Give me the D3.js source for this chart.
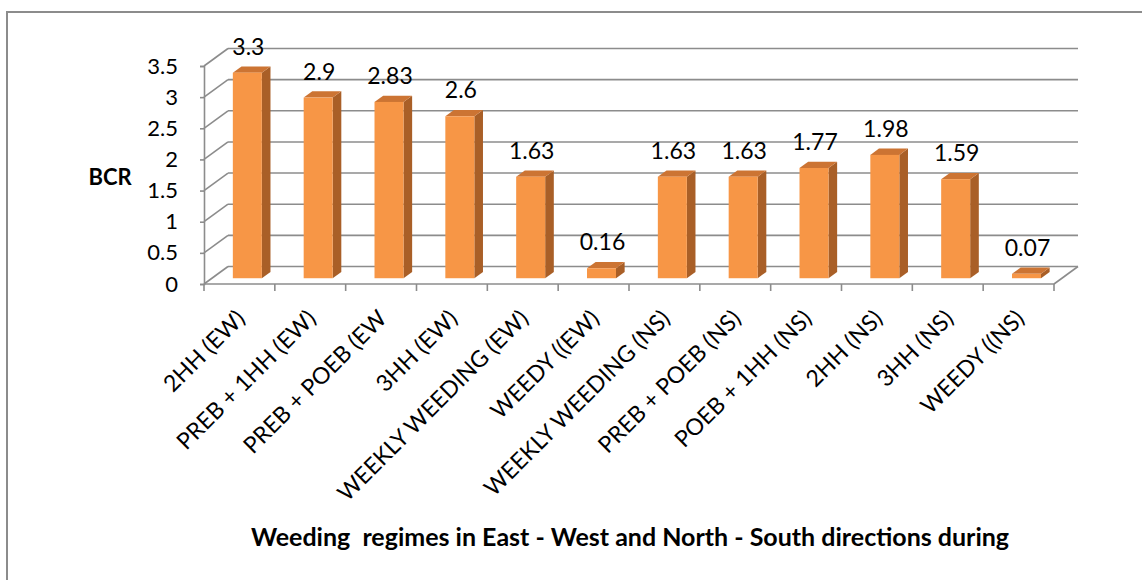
<!DOCTYPE html>
<html>
<head>
<meta charset="utf-8">
<script src="https://cdn.jsdelivr.net/npm/d3@7"></script>
<style>
  body { margin: 0; background: #fff; }
  text { font-family: Lato, "Open Sans", sans-serif; fill: #000; }
</style>
</head>
<body>
<svg width="1142" height="580"></svg>
<script>
const categories = [
    "2HH (EW)", "PREB + 1HH (EW)", "PREB + POEB (EW", "3HH (EW)",
    "WEEKLY WEEDING (EW)", "WEEDY ((EW)", "WEEKLY WEEDING (NS)", "PREB + POEB (NS)",
    "POEB + 1HH (NS)", "2HH (NS)", "3HH (NS)", "WEEDY ((NS)"
];
const bcr = [3.3, 2.9, 2.83, 2.6, 1.63, 0.16, 1.63, 1.63, 1.77, 1.98, 1.59, 0.07];
const yTicks = [0, 0.5, 1, 1.5, 2, 2.5, 3, 3.5];

const svg = d3.select("svg");
const plotLeft = 204, plotRight = 1054, plotBottom = 284, plotTop = 66;
// depth of the 3d box
const depthX = 24, depthY = -17.5;
const gridColor = "#8c8c8c";

const x = d3.scaleBand().domain(categories).range([plotLeft, plotRight]);
const y = d3.scaleLinear().domain([0, 3.5]).range([plotBottom, plotTop]);

// outer frame (only top and left edges show)
svg.append("path")
    .attr("d", "M7,580 V12 H1142")
    .attr("fill", "none")
    .attr("stroke", "#8c8c8c")
    .attr("stroke-width", 2);

const walls = svg.append("g")
    .attr("fill", "none")
    .attr("stroke", gridColor)
    .attr("stroke-width", 1.6);

// back wall gridlines
walls.selectAll(".grid").data(yTicks).join("line")
    .attr("x1", plotLeft + depthX).attr("x2", plotRight + depthX)
    .attr("y1", (d) => y(d) + depthY).attr("y2", (d) => y(d) + depthY);

// side wall lines
walls.selectAll(".side").data(yTicks).join("line")
    .attr("x1", plotLeft).attr("x2", plotLeft + depthX)
    .attr("y1", (d) => y(d)).attr("y2", (d) => y(d) + depthY);

// floor right edge
walls.append("line")
    .attr("x1", plotRight).attr("x2", plotRight + depthX)
    .attr("y1", plotBottom).attr("y2", plotBottom + depthY);

// y axis
const yAxis = svg.append("g")
    .attr("transform", `translate(${plotLeft},0)`)
    .call(d3.axisLeft(y).tickValues(yTicks).tickSize(4).tickPadding(22).tickFormat(d3.format("")));
yAxis.select(".domain").attr("stroke", gridColor).attr("stroke-width", 1.6);
yAxis.selectAll(".tick line").attr("stroke", gridColor).attr("stroke-width", 1.6);
yAxis.selectAll(".tick text").attr("font-size", 22).attr("font-family", "Lato");

// x axis: ticks at band boundaries, labels rotated
svg.append("line")
    .attr("x1", plotLeft).attr("x2", plotRight)
    .attr("y1", plotBottom).attr("y2", plotBottom)
    .attr("stroke", gridColor).attr("stroke-width", 1.6);
const bounds = categories.map((c) => x(c)).concat([plotRight]);
svg.append("g").selectAll("line").data(bounds).join("line")
    .attr("x1", (d) => d).attr("x2", (d) => d)
    .attr("y1", plotBottom).attr("y2", plotBottom + 7)
    .attr("stroke", gridColor).attr("stroke-width", 1.6);

svg.append("g").selectAll("text").data(categories).join("text")
    .attr("transform", (d) => `translate(${x(d) + x.bandwidth() / 2 + 7},${plotBottom + 36}) rotate(-45)`)
    .attr("text-anchor", "end")
    .attr("font-size", 23)
    .text((d) => d);

// bars
const barW = 29, barDepth = 0.36, barFront = 0.33;
const bdx = depthX * barDepth, bdy = depthY * barDepth;
const bars = svg.append("g").selectAll("g").data(categories).join("g")
    .attr("transform", (d) => `translate(${x(d) + (x.bandwidth() - barW) / 2 + depthX * barFront},${depthY * barFront})`);

bars.append("path") // side
    .attr("fill", "#a95f27")
    .attr("d", (d, i) => `M${barW},${y(bcr[i])} L${barW + bdx},${y(bcr[i]) + bdy} L${barW + bdx},${plotBottom + bdy} L${barW},${plotBottom} Z`);
bars.append("path") // top
    .attr("fill", "#cc7433")
    .attr("d", (d, i) => `M0,${y(bcr[i])} L${bdx},${y(bcr[i]) + bdy} L${barW + bdx},${y(bcr[i]) + bdy} L${barW},${y(bcr[i])} Z`);
bars.append("rect") // front
    .attr("fill", "#f79646")
    .attr("x", 0).attr("width", barW)
    .attr("y", (d, i) => y(bcr[i]))
    .attr("height", (d, i) => plotBottom - y(bcr[i]));

bars.append("text")
    .attr("x", barW / 2 + 1)
    .attr("y", (d, i) => y(bcr[i]) - 18)
    .attr("text-anchor", "middle")
    .attr("font-size", 23)
    .text((d, i) => bcr[i]);

// axis titles
svg.append("text")
    .attr("x", 110).attr("y", 185)
    .attr("text-anchor", "middle")
    .attr("font-size", 22).attr("font-weight", "bold")
    .text("BCR");

svg.append("text")
    .attr("x", 630).attr("y", 546)
    .attr("text-anchor", "middle")
    .attr("font-size", 25).attr("font-weight", "bold")
    .attr("xml:space", "preserve")
    .style("white-space", "pre")
    .text("Weeding  regimes in East - West and North - South directions during");
</script>
</body>
</html>
